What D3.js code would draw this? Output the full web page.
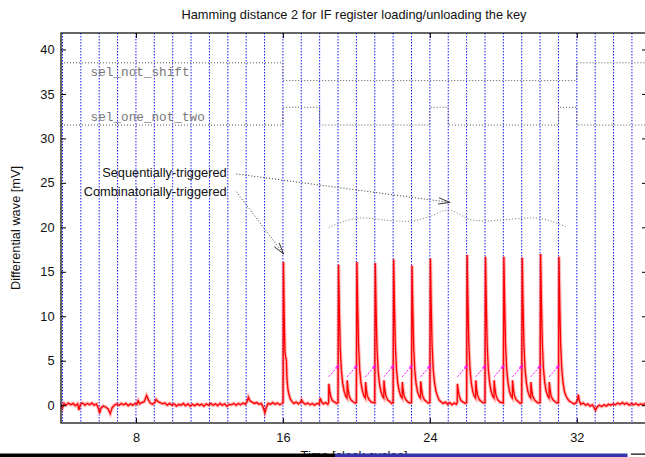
<!DOCTYPE html>
<html>
<head>
<meta charset="utf-8">
<script src="https://cdn.jsdelivr.net/npm/d3@7/dist/d3.min.js"></script>
<style>
  body { margin: 0; background: #fff; }
  svg { display: block; }
  text { font-family: "Liberation Sans", Arial, sans-serif; }
</style>
</head>
<body>
<svg id="chart" width="645" height="457"></svg>
<script>
// ---- data ----
const xTicks = [8, 16, 24, 32];
const yTicks = [0, 5, 10, 15, 20, 25, 30, 35, 40];
const gridT = d3.range(4, 36);

// control signals, step-after form [clock, level]
const selNotShift = [[3.92, 38.5], [16, 36.5], [32, 38.5], [35.82, 38.5]];
const selOneNotTwo = [[3.92, 31.5], [16, 33.5], [18, 31.5], [24, 33.5], [25, 31.5], [31, 33.5], [32, 31.5], [35.82, 31.5]];

// small magenta arrows, start clock of each
const magentaStarts = [18.5, 19.5, 20.5, 21.5, 22.5, 23.5, 25.5, 26.5, 27.5, 28.5, 29.5, 30.5];
const magentaFrom = 3.2, magentaTo = 4.5, magentaLen = 0.54;

// brace under the annotation
const brace = [[18.5, 20.0], [20.02, 21.02], [22.07, 20.72], [23.07, 20.72], [23.97, 21.2], [25.02, 21.95],
  [26.15, 20.91], [27.05, 20.72], [29.04, 21.02], [29.95, 21.02], [30.67, 20.64], [31.49, 20.0]];

// differential wave [clock, mV]
const wave = [
  [3.92,0.1],[4.0,-0.3],[4.08,0.2],[4.2,0.0],[4.32,0.25],[4.45,0.05],[4.58,0.2],[4.7,-0.05],[4.82,0.15],[4.9,-0.55],
  [4.97,0.1],[5.1,0.25],[5.22,0.0],[5.35,0.2],[5.48,0.05],[5.6,0.25],[5.72,0.0],[5.85,0.15],[5.95,-0.3],[6.02,-0.9],
  [6.1,-0.3],[6.22,-0.1],[6.35,-0.2],[6.48,-0.4],[6.6,-0.95],[6.7,-0.3],[6.82,0.0],[6.95,0.15],[7.08,0.0],[7.2,0.2],
  [7.33,0.05],[7.45,0.2],[7.58,-0.05],[7.7,0.15],[7.82,0.0],[7.95,0.2],[8.05,0.1],[8.12,0.5],[8.2,0.15],[8.32,0.3],
  [8.45,0.4],[8.58,1.1],[8.68,0.6],[8.78,0.25],[8.9,0.1],[9.02,0.3],[9.1,0.65],[9.2,0.4],[9.32,0.3],[9.45,0.15],
  [9.58,0.25],[9.7,0.0],[9.83,0.2],[9.95,0.0],[10.08,0.15],[10.2,-0.1],[10.33,0.1],[10.45,0.0],[10.58,0.2],[10.7,-0.05],
  [10.83,0.15],[10.95,-0.1],[11.08,0.1],[11.2,-0.05],[11.33,0.15],[11.45,0.0],[11.58,0.1],[11.7,-0.1],[11.83,0.15],[11.95,0.0],
  [12.08,0.2],[12.2,0.0],[12.33,0.15],[12.45,-0.05],[12.58,0.2],[12.7,0.0],[12.83,0.15],[12.95,-0.1],[13.08,0.1],[13.2,0.05],
  [13.33,0.2],[13.45,0.0],[13.58,0.2],[13.7,0.05],[13.83,0.25],[13.95,0.1],[14.05,0.4],[14.12,0.9],[14.2,0.5],[14.32,0.35],
  [14.45,0.2],[14.58,0.3],[14.7,0.1],[14.82,0.2],[14.92,-0.2],[15.02,-0.85],[15.1,-0.2],[15.2,0.2],[15.33,0.1],[15.45,0.3],
  [15.58,0.1],[15.7,0.25],[15.83,0.05],[15.95,0.2],
  [16.01,0.3],[16.03,16.1],[16.07,10.0],[16.11,6.0],[16.15,5.4],[16.19,5.0],[16.22,3.0],[16.27,1.8],[16.33,1.2],[16.4,0.7],
  [16.5,0.4],[16.6,0.2],[16.72,0.35],[16.85,0.15],[16.95,0.3],[17.02,0.6],[17.1,0.3],[17.22,0.1],[17.35,0.25],[17.48,0.05],
  [17.6,0.2],[17.72,0.0],[17.85,0.2],[17.97,0.1],[18.04,0.8],[18.1,0.4],[18.2,0.15],[18.32,0.3],[18.44,0.1],
  [18.49,0.3],[18.5,2.4],[18.54,1.7],[18.6,1.0],[18.7,0.5],[18.82,0.35],[18.92,0.2],[19.0,0.3],
  [19.03,15.8],[19.07,11.0],[19.12,6.5],[19.18,4.0],[19.25,2.5],[19.33,1.6],[19.42,1.0],[19.49,0.8],
  [19.5,2.8],[19.54,1.9],[19.6,1.1],[19.7,0.6],[19.82,0.4],[19.92,0.25],[20.0,0.3],
  [20.03,16.1],[20.07,11.2],[20.12,6.6],[20.18,4.0],[20.25,2.5],[20.33,1.6],[20.42,1.0],[20.49,0.8],
  [20.5,2.6],[20.54,1.8],[20.6,1.0],[20.7,0.6],[20.82,0.35],[20.92,0.3],[21.0,0.25],
  [21.03,16.0],[21.07,11.1],[21.12,6.5],[21.18,4.0],[21.25,2.5],[21.33,1.6],[21.42,1.0],[21.49,0.8],
  [21.5,2.8],[21.54,1.9],[21.6,1.1],[21.7,0.6],[21.82,0.4],[21.92,0.2],[22.0,0.3],
  [22.03,16.4],[22.07,11.4],[22.12,6.7],[22.18,4.1],[22.25,2.5],[22.33,1.6],[22.42,1.0],[22.49,0.8],
  [22.5,2.6],[22.54,1.8],[22.6,1.0],[22.7,0.6],[22.82,0.35],[22.92,0.25],[23.0,0.3],
  [23.03,15.7],[23.07,10.9],[23.12,6.4],[23.18,3.9],[23.25,2.4],[23.33,1.5],[23.42,1.0],[23.49,0.8],
  [23.5,2.7],[23.54,1.9],[23.6,1.1],[23.7,0.6],[23.82,0.4],[23.92,0.25],[24.0,0.3],
  [24.03,16.5],[24.07,11.5],[24.12,6.8],[24.18,4.1],[24.25,2.6],[24.33,1.6],[24.42,1.0],[24.5,0.6],[24.6,0.4],[24.72,0.2],
  [24.85,0.35],[24.97,0.1],[25.08,0.3],[25.2,0.05],[25.32,0.25],[25.44,0.1],[25.49,0.3],
  [25.5,2.4],[25.54,1.7],[25.6,1.0],[25.7,0.5],[25.82,0.35],[25.92,0.2],[26.0,0.3],
  [26.03,16.9],[26.07,11.8],[26.12,6.9],[26.18,4.2],[26.25,2.6],[26.33,1.6],[26.42,1.0],[26.49,0.8],
  [26.5,2.8],[26.54,1.9],[26.6,1.1],[26.7,0.6],[26.82,0.4],[26.92,0.25],[27.0,0.3],
  [27.03,16.7],[27.07,11.6],[27.12,6.8],[27.18,4.1],[27.25,2.6],[27.33,1.6],[27.42,1.0],[27.49,0.8],
  [27.5,2.8],[27.54,1.9],[27.6,1.1],[27.7,0.6],[27.82,0.35],[27.92,0.3],[28.0,0.25],
  [28.03,16.7],[28.07,11.6],[28.12,6.8],[28.18,4.1],[28.25,2.6],[28.33,1.6],[28.42,1.0],[28.49,0.8],
  [28.5,2.8],[28.54,1.9],[28.6,1.1],[28.7,0.6],[28.82,0.4],[28.92,0.2],[29.0,0.3],
  [29.03,16.6],[29.07,11.5],[29.12,6.8],[29.18,4.1],[29.25,2.6],[29.33,1.6],[29.42,1.0],[29.49,0.8],
  [29.5,2.6],[29.54,1.8],[29.6,1.0],[29.7,0.6],[29.82,0.35],[29.92,0.25],[30.0,0.3],
  [30.03,17.0],[30.07,11.8],[30.12,7.0],[30.18,4.2],[30.25,2.6],[30.33,1.6],[30.42,1.0],[30.49,0.8],
  [30.5,2.6],[30.54,1.8],[30.6,1.0],[30.7,0.6],[30.82,0.4],[30.92,0.25],[31.0,0.3],
  [31.03,16.7],[31.07,11.6],[31.12,6.8],[31.18,4.1],[31.25,2.5],[31.33,1.5],[31.42,1.0],[31.5,0.7],[31.6,0.45],[31.72,0.3],
  [31.85,0.15],[31.97,0.3],[32.04,0.6],[32.08,1.2],[32.13,0.5],[32.22,0.1],[32.35,0.25],[32.48,0.0],[32.6,0.15],[32.72,-0.1],
  [32.85,0.05],[32.95,-0.3],[33.02,-0.55],[33.1,-0.2],[33.22,0.0],[33.35,-0.15],[33.48,0.05],[33.6,-0.1],[33.72,0.1],[33.85,0.0],
  [33.97,0.15],[34.1,0.05],[34.22,0.25],[34.35,0.1],[34.48,0.3],[34.6,0.1],[34.72,0.25],[34.85,0.0],[34.97,0.2],[35.1,0.05],
  [35.22,0.2],[35.35,0.0],[35.48,0.15],[35.6,0.05],[35.72,0.2],[35.82,0.1]
];

// annotation arrows: [fromX, fromY, toX, toY]
const seqArrow = [13.47, 26.0, 25.1, 22.8];
const combArrow = [13.47, 24.0, 16.04, 17.0];

// ---- drawing ----
const svg = d3.select("#chart");
const pLeft = 61, pTop = 33, pRight = 647, pBottom = 423;

const x = d3.scaleLinear().domain([3.92, 35.82]).range([pLeft, pRight]);
const y = d3.scaleLinear().domain([-2, 41.85]).range([pBottom, pTop]);

svg.append("defs").append("clipPath").attr("id", "clip")
  .append("rect").attr("x", pLeft).attr("y", pTop).attr("width", pRight - pLeft).attr("height", pBottom - pTop);

// vertical dotted grid
svg.append("g")
  .selectAll("line")
  .data(gridT)
  .join("line")
    .attr("x1", d => x(d)).attr("x2", d => x(d))
    .attr("y1", pTop).attr("y2", pBottom)
    .attr("stroke", "#1a1aff")
    .attr("stroke-width", 1)
    .attr("stroke-dasharray", "1.5,1.5");

const plot = svg.append("g").attr("clip-path", "url(#clip)");

const step = d3.line().x(d => x(d[0])).y(d => y(d[1])).curve(d3.curveStepAfter);
[selNotShift, selOneNotTwo].forEach(s => {
  plot.append("path")
    .attr("d", step(s))
    .attr("fill", "none")
    .attr("stroke", "#555")
    .attr("stroke-width", 1)
    .attr("stroke-dasharray", "1,2");
});

svg.append("text").attr("x", x(5.53)).attr("y", y(37.0))
  .style("font-family", "'Liberation Mono', monospace").style("font-size", "12.7px")
  .attr("fill", "#777").text("sel_not_shift");
svg.append("text").attr("x", x(5.53)).attr("y", y(32.0))
  .style("font-family", "'Liberation Mono', monospace").style("font-size", "12.7px")
  .attr("fill", "#777").text("sel_one_not_two");

// red trace (with a faint band to mimic noise)
const line = d3.line().x(d => x(d[0])).y(d => y(d[1]));
plot.append("path")
  .attr("d", line(wave))
  .attr("fill", "none")
  .attr("stroke", "#ff0000")
  .attr("stroke-opacity", 0.3)
  .attr("stroke-width", 3.5);
plot.append("path")
  .attr("d", line(wave))
  .attr("fill", "none")
  .attr("stroke", "#ff0000")
  .attr("stroke-width", 1.3);

// open-headed arrow helper
function arrow(g, x1, y1, x2, y2, color, len, dash, width) {
  g.append("line")
    .attr("x1", x1).attr("y1", y1).attr("x2", x2).attr("y2", y2)
    .attr("stroke", color).attr("stroke-width", width)
    .attr("stroke-dasharray", dash);
  const a = Math.atan2(y2 - y1, x2 - x1);
  const spread = 15 * Math.PI / 180;
  [a + Math.PI - spread, a + Math.PI + spread].forEach(b => {
    g.append("line")
      .attr("x1", x2).attr("y1", y2)
      .attr("x2", x2 + len * Math.cos(b)).attr("y2", y2 + len * Math.sin(b))
      .attr("stroke", color).attr("stroke-width", width);
  });
}

const mag = plot.append("g");
magentaStarts.forEach(s => {
  arrow(mag, x(s), y(magentaFrom), x(s + magentaLen), y(magentaTo), "#ff00ff", 4, "2,1.5", 1);
});

// brace
plot.append("path")
  .attr("d", d3.line().x(d => x(d[0])).y(d => y(d[1])).curve(d3.curveCatmullRom)(brace))
  .attr("fill", "none")
  .attr("stroke", "#777")
  .attr("stroke-width", 1)
  .attr("stroke-dasharray", "1,2");

const ann = svg.append("g");
arrow(ann, x(seqArrow[0]), y(seqArrow[1]), x(seqArrow[2]), y(seqArrow[3]), "#333", 12, "1,2", 1);
arrow(ann, x(combArrow[0]), y(combArrow[1]), x(combArrow[2]), y(combArrow[3]), "#333", 12, "1,2", 1);

svg.append("text").attr("x", 226.7).attr("y", 177.3).attr("text-anchor", "end")
  .style("font-size", "12.8px").attr("fill", "#111").text("Sequentially-triggered");
svg.append("text").attr("x", 226.7).attr("y", 195.7).attr("text-anchor", "end")
  .style("font-size", "12.8px").attr("fill", "#111").text("Combinatorially-triggered");

// axes (ticks point inward, mirrored)
function styleAxis(g) {
  g.select(".domain").remove();
  g.selectAll("line").attr("stroke", "#000");
  g.selectAll("text").style("font-family", "'Liberation Sans', Arial, sans-serif")
    .style("font-size", "12.8px").attr("fill", "#111");
}
svg.append("g").attr("transform", `translate(${pLeft},0)`)
  .call(d3.axisLeft(y).tickValues(yTicks).tickSize(-5).tickSizeOuter(0).tickPadding(6.5))
  .call(styleAxis);
svg.append("g").attr("transform", `translate(${pRight},0)`)
  .call(d3.axisRight(y).tickValues(yTicks).tickSize(-5).tickSizeOuter(0).tickFormat(""))
  .call(styleAxis);
svg.append("g").attr("transform", `translate(0,${pBottom})`)
  .call(d3.axisBottom(x).tickValues(xTicks).tickSize(-5).tickSizeOuter(0).tickPadding(10))
  .call(styleAxis);
svg.append("g").attr("transform", `translate(0,${pTop})`)
  .call(d3.axisTop(x).tickValues(xTicks).tickSize(-5).tickSizeOuter(0).tickFormat(""))
  .call(styleAxis);

svg.append("rect")
  .attr("x", pLeft).attr("y", pTop).attr("width", pRight - pLeft).attr("height", pBottom - pTop)
  .attr("fill", "none").attr("stroke", "#000").attr("stroke-width", 1.2);

// titles
svg.append("text").attr("x", (pLeft + pRight) / 2).attr("y", 18.5).attr("text-anchor", "middle")
  .style("font-size", "12.8px").attr("fill", "#111")
  .text("Hamming distance 2 for IF register loading/unloading the key");
svg.append("text")
  .attr("transform", `translate(20,${(pTop + pBottom) / 2}) rotate(-90)`)
  .attr("text-anchor", "middle")
  .style("font-size", "12.8px").attr("fill", "#111")
  .text("Differential wave [mV]");
svg.append("text").attr("x", (pLeft + pRight) / 2).attr("y", 460).attr("text-anchor", "middle")
  .style("font-size", "12.8px").attr("fill", "#111")
  .text("Time [clock cycles]");

// strip across the bottom edge of the screenshot
svg.append("rect").attr("x", 0).attr("y", 453.5).attr("width", 335).attr("height", 3.5).attr("fill", "#000");
svg.append("rect").attr("x", 335).attr("y", 453.5).attr("width", 292.5).attr("height", 3.5).attr("fill", "#3434a8");
svg.append("rect").attr("x", 631).attr("y", 453.5).attr("width", 14).attr("height", 1.2).attr("fill", "#000");
</script>
</body>
</html>
